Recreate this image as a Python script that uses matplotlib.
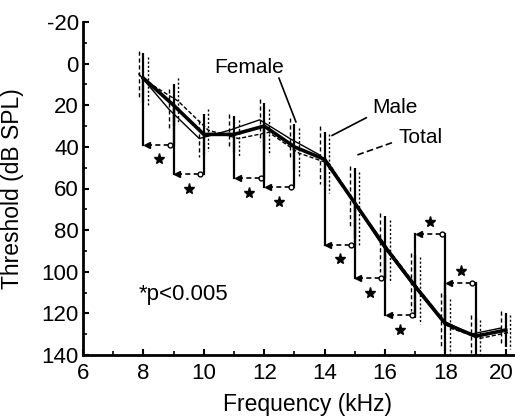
import matplotlib
matplotlib.use("Agg")
import matplotlib.pyplot as plt
import matplotlib.transforms as mtransforms
import numpy as np

plt.rcParams['font.family'] = ['Liberation Sans', 'DejaVu Sans']
plt.rcParams['axes.unicode_minus'] = False

# Hearing thresholds (dB SPL) by test frequency (kHz)
freqs = [8, 9, 10, 11, 12, 13, 14, 15, 16, 17, 18, 19, 20]
total_mean = [7, 20, 34, 34, 30, 40, 46, 67, 88, 107, 125, 131, 128]
total_sd = [12, 10, 10, 9, 11, 11, 13, 17, 15, 15, 14, 9, 8]
female_mean = [5, 22, 36, 32, 27, 36, 44, 64, 86, 105, 123, 130, 127]
female_sd = [11, 10, 9, 8, 10, 10, 14, 15, 14, 14, 13, 9, 8]
male_mean = [9, 18, 32, 36, 33, 43, 48, 70, 90, 109, 127, 132, 129]
male_sd = [12, 11, 10, 9, 11, 12, 14, 18, 15, 16, 14, 9, 8]

# Significant differences between neighbouring frequencies:
# (lower kHz, upper kHz, bracket level dB, star placed below bracket?)
pairs_lo = [8, 9, 11, 12, 14, 15, 16, 17, 18]
pairs_hi = [9, 10, 12, 13, 15, 16, 17, 18, 19]
pair_level = [39, 53, 55, 59.5, 87, 103, 121, 82, 105.5]
star_below = [True, True, True, True, True, True, True, False, False]

x_ticks = [6, 8, 10, 12, 14, 16, 18, 20]
y_ticks = [-20, 0, 20, 40, 60, 80, 100, 120, 140]

fig = plt.figure(figsize=(5.15, 4.18), dpi=100)
ax = fig.add_axes([83 / 515, 63 / 418, 432 / 515, 333 / 418])

f = np.array(freqs, dtype=float)
off = 0.15

# error bars for the three groups
eb = ax.errorbar(f - off, female_mean, yerr=female_sd, fmt='none', ecolor='black',
                 elinewidth=1.0, zorder=2)
eb.lines[2][0].set_linestyle((0, (3, 2)))
eb = ax.errorbar(f + off, male_mean, yerr=male_sd, fmt='none', ecolor='black',
                 elinewidth=1.0, zorder=2)
eb.lines[2][0].set_linestyle((0, (1.5, 1.5)))
ax.errorbar(f, total_mean, yerr=total_sd, fmt='none', ecolor='black',
            elinewidth=1.6, zorder=2)

# group curves
ax.plot(f - off, female_mean, color='black', lw=1.0, zorder=3)
ax.plot(f + off, male_mean, color='black', lw=1.0, ls=(0, (3, 1.5)), zorder=3)
ax.plot(f, total_mean, color='black', lw=2.6, zorder=4)

# significance brackets
tm = dict(zip(freqs, total_mean))
for lo, hi, lev, below in zip(pairs_lo, pairs_hi, pair_level, star_below):
    ax.plot([lo, lo], [tm[lo], lev], color='black', lw=1.6, zorder=3)
    ax.plot([hi, hi], [tm[hi], lev], color='black', lw=1.6, zorder=3)
    ax.plot([lo + 0.12, hi - 0.12], [lev, lev], color='black', lw=1.2,
            ls=(0, (3, 2)), zorder=3)
    ax.plot([lo + 0.12], [lev], marker='<', ms=4, color='black', zorder=3)
    ax.plot([hi - 0.12], [lev], marker='o', ms=3.5, mfc='white',
            mec='black', mew=1.0, zorder=3)
    sy = lev + 7 if below else lev - 6
    ax.plot([(lo + hi) / 2], [sy], marker='*', ms=8, color='black', zorder=3)

# labels for the curves
ax.text(11.49, 2, 'Female', fontsize=15, ha='center', va='center')
ax.plot([12.49, 13.05], [7, 28], color='black', lw=1.2)
ax.text(16.32, 21, 'Male', fontsize=15, ha='center', va='center')
ax.plot([15.38, 14.25], [26, 34.5], color='black', lw=1.2)
ax.text(17.17, 35.5, 'Total', fontsize=15, ha='center', va='center')
ax.plot([16.23, 15.06], [38, 44], color='black', lw=1.2, ls=(0, (4, 2)))

ax.text(9.34, 111, '*p<0.005', fontsize=16, ha='center', va='center')

# axes styling
ax.set_xlim(6, 6 + 432 / 30.2)
ax.set_ylim(140, -20)
ax.set_xticks(x_ticks)
ax.set_xticks([7, 9, 11, 13, 15, 17, 19], minor=True)
ax.set_yticks(y_ticks)
ax.set_yticks(np.arange(-10, 140, 20), minor=True)
ax.set_xticklabels([str(v) for v in x_ticks])
ax.set_yticklabels([str(v) for v in y_ticks])
for s in ['top', 'right']:
    ax.spines[s].set_visible(False)
for s in ['left', 'bottom']:
    ax.spines[s].set_linewidth(2.0)
ax.tick_params(axis='both', which='major', direction='in', length=4, width=1.5,
               labelsize=16)
ax.tick_params(axis='both', which='minor', direction='in', length=3, width=1.2)
ax.tick_params(axis='x', which='major', pad=6)
ax.tick_params(axis='y', which='major', pad=3)

ax.set_xlabel('Frequency (kHz)', fontsize=16.5)
ax.set_ylabel('Threshold (dB SPL)', fontsize=16.5)
ax.xaxis.set_label_coords(0.52, -0.115)
ax.yaxis.set_label_coords(-0.136, 0.5)

# keep the rightmost tick label inside the canvas
last = ax.get_xticklabels()[-1]
last.set_transform(last.get_transform() +
                   mtransforms.ScaledTranslation(-5 / 100, 0, fig.dpi_scale_trans))

fig.savefig('out.png', dpi=100)
